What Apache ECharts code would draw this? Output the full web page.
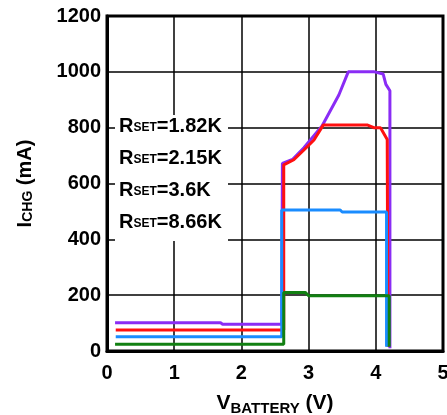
<!DOCTYPE html>
<html><head><meta charset="utf-8">
<script src="https://cdn.jsdelivr.net/npm/echarts@6/dist/echarts.min.js"></script>
<style>html,body{margin:0;padding:0;background:#fff}#c{width:447px;height:415px}</style>
</head><body><div id="c"></div>
<script>
// Data (x: V_BATTERY in V, y: I_CHG in mA)
var xTicks = [0, 1, 2, 3, 4, 5];
var yTicks = [0, 200, 400, 600, 800, 1000, 1200];
var seriesNames = ['RSET=1.82K', 'RSET=2.15K', 'RSET=3.6K', 'RSET=8.66K'];
var r182 = [[0.12,101],[1.69,101],[1.72,96],[2.6,96],[2.61,672],[2.76,686],[2.93,728],[3.2,806],[3.45,917],[3.59,1000],[3.98,1000],[4.11,992],[4.15,955],[4.21,932],[4.21,10]];
var r215 = [[0.13,75],[2.63,75],[2.63,667],[2.78,685],[2.93,720],[3.08,756],[3.22,810],[3.87,810],[3.97,800],[4.07,800],[4.17,758],[4.18,15]];
var r36  = [[0.13,51],[2.6,51],[2.6,505],[3.47,505],[3.5,498],[4.16,498],[4.16,15]];
var r866 = [[0.12,24],[2.63,24],[2.63,210],[2.95,210],[3.0,198],[4.2,198],[4.2,15]];
var colors = ['#8a2cf5', '#ff1010', '#1a8cff', '#128012'];

var FONT = 'Liberation Sans';
function mk(name, data, color) {
  return { name: name, type: 'line', data: data, showSymbol: false, symbol: 'none',
    lineStyle: { color: color, width: 3 }, itemStyle: { color: color }, animation: false };
}
var chart = echarts.init(document.getElementById('c'));
chart.setOption({
  animation: false,
  backgroundColor: '#fff',
  grid: { left: 107, top: 16, right: 4, bottom: 64, containLabel: false, outerBoundsMode: 'none',
    show: true, borderColor: '#000', borderWidth: 3, backgroundColor: 'transparent' },
  xAxis: {
    type: 'value', min: xTicks[0], max: xTicks[xTicks.length-1], interval: 1,
    axisLine: { show: true, lineStyle: { color: '#000', width: 3 } },
    axisTick: { show: false },
    splitLine: { show: true, lineStyle: { color: '#000', width: 1.5 } },
    axisLabel: { color: '#000', fontFamily: FONT, fontWeight: 'bold', fontSize: 20, margin: 12, hideOverlap: false,
      formatter: function (v) { return String(v); } },
    name: '{b|V}{s|BATTERY}{b| (V)}', nameLocation: 'middle', nameGap: 42,
    nameTextStyle: { rich: {
      b: { fontFamily: FONT, fontSize: 21, fontWeight: 'bold', color: '#000', verticalAlign: 'bottom' },
      s: { fontFamily: FONT, fontSize: 15, fontWeight: 'bold', color: '#000', verticalAlign: 'bottom', padding: [0,0,-2,0] }
    } }
  },
  yAxis: {
    type: 'value', min: yTicks[0], max: yTicks[yTicks.length-1], interval: 200,
    axisLine: { show: true, lineStyle: { color: '#000', width: 3 } },
    axisTick: { show: false },
    splitLine: { show: true, lineStyle: { color: '#000', width: 1.5 } },
    axisLabel: { color: '#000', fontFamily: FONT, fontWeight: 'bold', fontSize: 20, margin: 6,
      formatter: function (v) { return String(v); } },
    name: '{b|I}{s|CHG}{b| (mA)}', nameLocation: 'middle', nameGap: 72, nameRotate: 90,
    nameTextStyle: { rich: {
      b: { fontFamily: FONT, fontSize: 20, fontWeight: 'bold', color: '#000', verticalAlign: 'bottom' },
      s: { fontFamily: FONT, fontSize: 14, fontWeight: 'bold', color: '#000', verticalAlign: 'bottom' }
    } }
  },
  series: [mk(seriesNames[0], r182, colors[0]), mk(seriesNames[1], r215, colors[1]), mk(seriesNames[2], r36, colors[2]), mk(seriesNames[3], r866, colors[3])],
  graphic: [
    { type: 'rect', left: 115, top: 115, shape: { width: 113, height: 126 }, style: { fill: '#fff' }, z: 50 },
    { type: 'text', left: 119, top: 116, z: 51,
      style: {
        text: seriesNames.map(function (n) { return '{b|R}{s|SET}{b|' + n.slice(4) + '}'; }).join('\n'),
        rich: {
          b: { fontFamily: FONT, fontSize: 20, fontWeight: 'bold', fill: '#000', lineHeight: 32, verticalAlign: 'bottom' },
          s: { fontFamily: FONT, fontSize: 12, fontWeight: 'bold', fill: '#000', lineHeight: 32, verticalAlign: 'bottom', padding: [0,0,2,0] }
        }
      } }
  ]
});
</script></body></html>
